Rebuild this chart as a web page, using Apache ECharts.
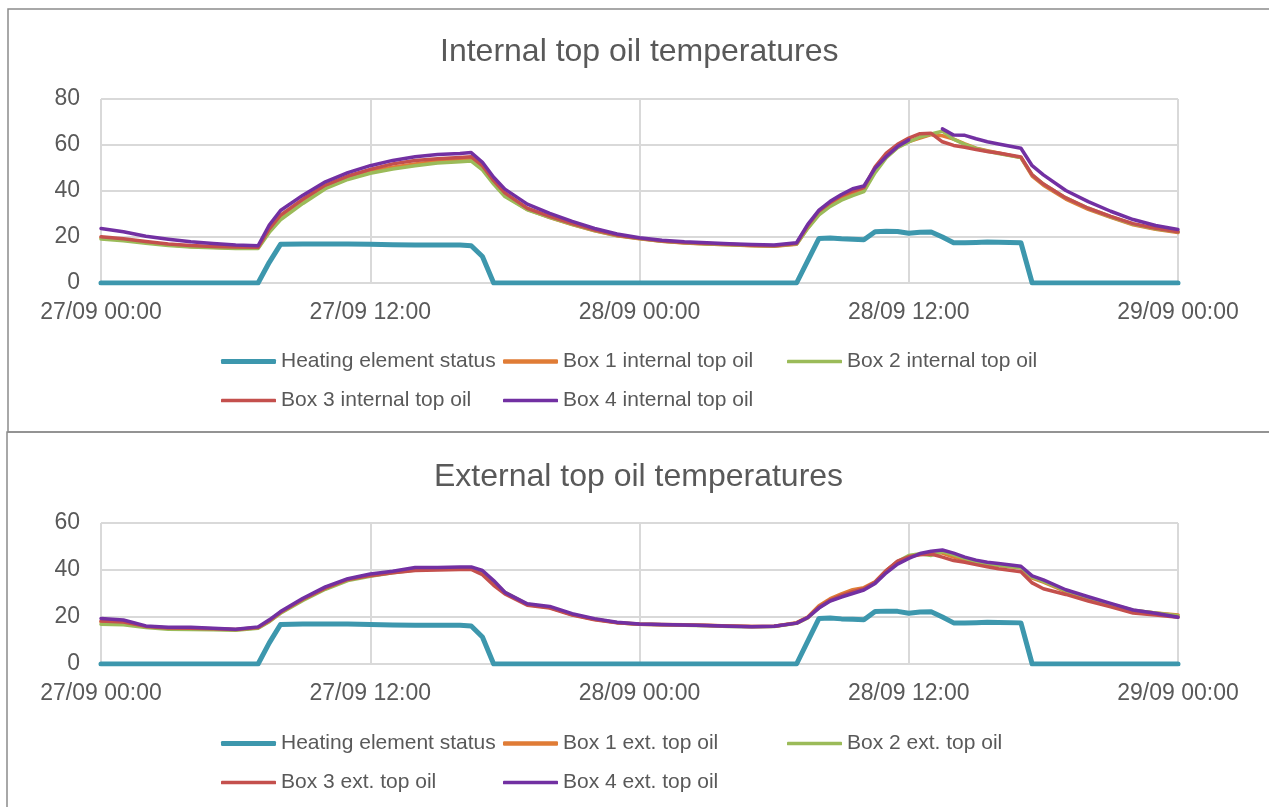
<!DOCTYPE html>
<html>
<head>
<meta charset="utf-8">
<title>Top oil temperatures</title>
<script src="https://cdn.jsdelivr.net/npm/echarts@6/dist/echarts.min.js"></script>
<style>
  html, body { margin: 0; padding: 0; background: #ffffff; }
  #chart { width: 1269px; height: 807px; }
</style>
</head>
<body>
<div id="chart"></div>
<script>
// Sample times, hours since 27/09 00:00
const HOURS = [0,1,2,3,4,5,6,7,7.5,8,9,10,11,12,13,14,15,16,16.5,17,17.5,18,
  19,20,21,22,23,24,25,26,27,28,29,30,31,31.5,32,32.5,33,33.5,34,34.5,35,35.5,36,
  36.5,37,37.5,38,38.5,39,39.5,40,41,41.5,42,43,44,45,46,47,48];

const TICK_LABELS = ['27/09 00:00', '27/09 12:00', '28/09 00:00', '28/09 12:00', '29/09 00:00'];

const heatingStatus = [0,0,0,0,0,0,0,0,
  9,16.8,
  17,17,17,16.8,16.6,16.5,16.5,16.5,
  16.2,11.5,0,0,
  0,0,0,0,0,0,0,0,0,0,0,0,0,
  9.7,19.4,19.6,19.2,19.0,18.8,22.3,22.5,22.4,21.6,
  22.1,22.2,
  20.0,17.5,17.5,17.6,17.8,17.7,
  17.5,0,0,
  0,0,0,0,0,0];

// Internal top oil, °C
const box1Internal = [19.7,18.8,17.6,16.6,15.9,15.5,15.2,15.2,
  22.8,28.5,
  35.5,41.6,45.5,48.4,50.3,51.7,52.9,53.5,
  53.8,50.0,43.5,38.0,
  32.0,28.4,25.4,22.7,20.5,19.2,18.1,17.4,17.0,16.6,16.2,16.0,16.8,
  24.0,30.0,33.8,36.8,38.8,40.2,48.8,54.8,59.0,61.5,
  63.0,64.5,
  64.0,62.6,60.5,58.6,57.5,56.5,
  54.5,46.5,42.5,
  36.5,32.0,28.5,25.3,23.4,22.0];

const box2Internal = [19.1,18.4,17.3,16.3,15.7,15.3,15.0,15.0,
  22.0,27.5,
  34.6,41.0,45.0,47.7,49.6,51.0,52.2,52.7,
  53.0,49.2,43.0,37.6,
  31.8,28.5,25.5,22.8,20.6,19.3,18.2,17.5,17.0,16.6,16.3,16.1,16.9,
  23.8,29.6,33.3,36.0,38.0,39.7,48.0,54.5,58.8,61.3,
  63.5,64.8,
  66.0,62.5,60.3,58.5,57.3,56.3,
  54.5,47.0,43.0,
  37.0,32.5,28.8,25.6,23.6,22.3];

const box3Internal = [20.1,19.2,18.0,17.0,16.3,15.9,15.6,15.5,
  23.5,29.5,
  36.5,42.6,46.5,49.4,51.8,53.3,54.0,54.6,
  54.9,51.0,44.5,39.2,
  32.5,29.0,25.8,23.0,20.8,19.4,18.3,17.6,17.2,16.8,16.4,16.2,17.2,
  25.0,31.3,35.0,38.0,40.0,41.5,50.5,56.5,60.3,63.0,
  64.9,65.1,
  61.4,59.8,59.0,58.0,57.2,56.5,
  54.8,47.0,43.0,
  37.0,32.5,29.0,25.8,23.8,22.3];

// Box 4 logger dropped out for about an hour on the 28th
const box4Internal = [23.7,22.3,20.3,19.0,17.9,17.2,16.5,16.2,
  25.2,31.5,
  38.2,44.0,48.0,51.0,53.3,54.9,55.9,56.3,
  56.7,52.5,46.0,40.8,
  34.3,30.3,26.8,23.7,21.3,19.7,18.6,17.9,17.5,17.1,16.7,16.5,17.5,
  25.5,31.7,35.5,38.5,41.0,42.2,49.9,55.0,59.3,62.2,
  null,null,
  67.0,64.3,64.2,62.7,61.4,60.4,
  58.6,51.0,47.0,
  40.2,35.4,31.2,27.6,25.0,23.3];

// External top oil, °C
const box1External = [17.9,17.4,15.9,15.2,15.1,14.9,14.6,15.4,
  18.2,21.8,
  27.5,32.2,35.9,37.7,39.0,40.2,40.3,40.6,
  40.6,39.0,34.5,30.3,
  25.3,24.0,21.0,19.0,17.6,17.0,16.8,16.7,16.5,16.2,16.0,16.1,17.6,
  20.0,24.8,27.8,29.8,31.6,32.5,35.0,39.8,43.5,45.6,
  46.8,47.4,
  47.2,45.5,44.3,43.4,42.6,42.0,
  41.0,36.5,34.8,
  30.8,27.9,25.3,22.8,21.7,20.9];

const box2External = [16.9,16.7,15.5,14.8,14.7,14.6,14.4,15.2,
  18.0,21.6,
  27.0,31.8,35.5,37.3,38.8,40.0,40.5,40.8,
  41.0,39.5,34.8,30.5,
  25.4,24.1,21.1,19.0,17.6,16.9,16.7,16.5,16.3,16.0,15.8,16.0,17.3,
  19.6,24.2,27.0,28.8,30.5,31.8,34.6,39.6,43.6,46.2,
  46.9,46.2,
  47.8,46.5,45.0,43.5,42.4,42.0,
  41.0,37.0,35.2,
  31.2,28.2,25.5,22.9,21.7,20.5];

const box3External = [18.3,17.9,16.0,15.3,15.2,15.0,14.7,15.5,
  18.4,22.0,
  27.6,32.3,36.0,37.6,38.8,39.8,40.0,40.2,
  40.2,38.0,33.5,29.8,
  25.0,23.8,20.8,18.8,17.5,16.9,16.7,16.6,16.4,16.2,16.0,16.1,17.4,
  19.8,24.3,27.2,29.2,30.8,32.0,34.8,39.8,43.8,45.6,
  46.5,46.8,
  45.5,44.0,43.3,42.3,41.4,40.5,
  39.3,34.5,32.0,
  29.6,26.8,24.3,21.7,20.9,19.9];

const box4External = [19.4,18.7,16.2,15.6,15.6,15.2,14.8,15.8,
  18.8,22.3,
  28.0,32.8,36.3,38.3,39.5,41.1,41.1,41.3,
  41.3,39.8,35.5,30.5,
  25.6,24.5,21.4,19.3,17.8,17.0,16.8,16.6,16.4,16.1,15.9,16.1,17.4,
  19.8,23.8,26.8,28.5,30.0,31.5,34.3,38.8,42.5,44.9,
  47.0,48.0,
  48.5,47.2,45.5,44.2,43.3,42.8,
  41.6,37.5,35.8,
  31.6,28.6,25.8,23.0,21.6,19.9];

const TOP_NAMES = ['Heating element status', 'Box 1 internal top oil', 'Box 2 internal top oil',
  'Box 3 internal top oil', 'Box 4 internal top oil'];
const BOTTOM_NAMES = ['Heating element status', 'Box 1 ext. top oil', 'Box 2 ext. top oil',
  'Box 3 ext. top oil', 'Box 4 ext. top oil'];

const COLORS = ['#3d97ad', '#e07c36', '#9bbb59', '#c4504d', '#7230a2'];
const WIDTHS = [5, 3.5, 3.5, 3.5, 3.5];
const ICON_H = [5, 4.5, 3.5, 3.5, 3.5];
const TEXT = '#595959';
const FONT = '"Liberation Sans", Arial, sans-serif';

function pairs(values) {
  return HOURS.map((h, i) => [h, values[i] === null ? '-' : values[i]]);
}

function lineSeries(name, values, idx, axis) {
  return {
    type: 'line',
    name: name,
    xAxisIndex: axis,
    yAxisIndex: axis,
    data: pairs(values),
    symbol: 'none',
    connectNulls: false,
    color: COLORS[idx],
    lineStyle: { color: COLORS[idx], width: WIDTHS[idx], join: 'round', cap: 'round' },
    z: 2 + idx
  };
}

const topValues = [heatingStatus, box1Internal, box2Internal, box3Internal, box4Internal];
const bottomValues = [heatingStatus, box1External, box2External, box3External, box4External];

const series = [];
topValues.forEach((v, i) => series.push(lineSeries(TOP_NAMES[i], v, i, 0)));
bottomValues.forEach((v, i) => series.push(lineSeries(BOTTOM_NAMES[i], v, i, 1)));

// Legend entries sit in a three-column layout, one legend component per entry
const COL_X = [221, 503, 787];
function legendsFor(names, rowTops) {
  return names.map((name, i) => ({
    data: [name],
    left: COL_X[i % 3],
    top: rowTops[Math.floor(i / 3)],
    padding: 0,
    icon: 'roundRect',
    itemWidth: 55,
    itemHeight: ICON_H[i],
    itemStyle: { borderWidth: 0 },
    selectedMode: false,
    textStyle: { color: TEXT, fontSize: 21, fontFamily: FONT }
  }));
}

function xAxisFor(gridIndex) {
  return {
    type: 'value',
    gridIndex: gridIndex,
    min: 0, max: 48, interval: 12,
    axisLine: { show: true, lineStyle: { color: '#d9d9d9', width: 2 } },
    axisTick: { show: false },
    splitLine: { show: true, lineStyle: { color: '#d9d9d9', width: 2 } },
    axisLabel: {
      color: TEXT, fontSize: 23, fontFamily: FONT, margin: 18,
      formatter: (v) => TICK_LABELS[Math.round(v / 12)]
    }
  };
}

function yAxisFor(gridIndex, max) {
  return {
    type: 'value',
    gridIndex: gridIndex,
    min: 0, max: max, interval: 20,
    axisLine: { show: false },
    axisTick: { show: false },
    splitLine: { show: true, lineStyle: { color: '#d9d9d9', width: 2 } },
    axisLabel: { color: TEXT, fontSize: 23, fontFamily: FONT, margin: 21 }
  };
}

const chart = echarts.init(document.getElementById('chart'), null, { renderer: 'canvas' });
chart.setOption({
  animation: false,
  backgroundColor: '#ffffff',
  textStyle: { fontFamily: FONT },
  title: [
    { text: 'Internal top oil temperatures', left: 435, top: 31,
      textStyle: { color: TEXT, fontSize: 32, fontWeight: 'normal', fontFamily: FONT } },
    { text: 'External top oil temperatures', left: 429, top: 456,
      textStyle: { color: TEXT, fontSize: 32, fontWeight: 'normal', fontFamily: FONT } }
  ],
  grid: [
    { left: 101, width: 1077, top: 99, height: 184 },
    { left: 101, width: 1077, top: 523, height: 141 }
  ],
  xAxis: [xAxisFor(0), xAxisFor(1)],
  yAxis: [yAxisFor(0, 80), yAxisFor(1, 60)],
  legend: legendsFor(TOP_NAMES, [351, 390]).concat(legendsFor(BOTTOM_NAMES, [733, 772])),
  graphic: [
    { type: 'rect', shape: { x: 8, y: 9, width: 1275, height: 423 },
      style: { fill: 'none', stroke: '#8c8c8c', lineWidth: 1.5 }, z: 100 },
    { type: 'rect', shape: { x: 7, y: 432, width: 1275, height: 390 },
      style: { fill: 'none', stroke: '#8c8c8c', lineWidth: 1.5 }, z: 100 }
  ],
  series: series
});
</script>
</body>
</html>
